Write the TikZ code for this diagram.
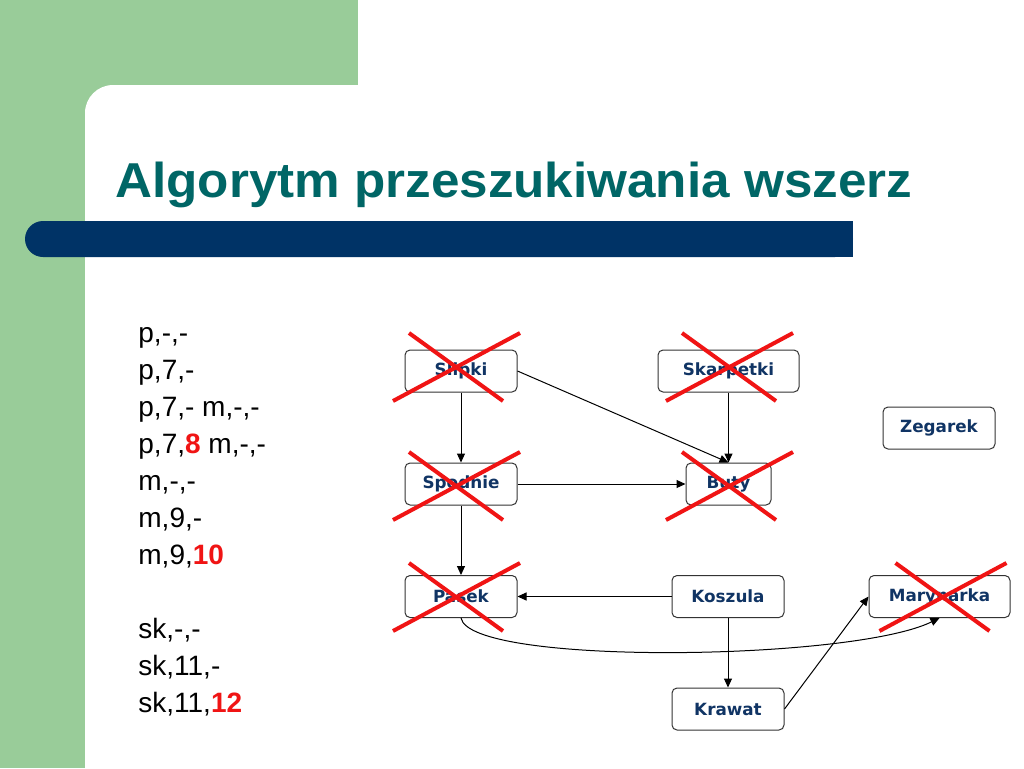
\documentclass[tikz,border=0pt]{standalone}
\usepackage{fontspec}
\usepackage{graphicx}
\setmainfont{Liberation Sans}
\newfontfamily\boxfont{DejaVu Sans}
\usetikzlibrary{arrows.meta}

\definecolor{slidegreen}{RGB}{153,204,153}
\definecolor{barblue}{RGB}{0,51,102}
\definecolor{titleteal}{RGB}{0,102,102}
\definecolor{labelblue}{RGB}{16,52,100}
\definecolor{crossred}{RGB}{240,20,20}
\newcommand{\hotnum}[1]{\textcolor{crossred}{\textbf{#1}}}

\begin{document}
\begin{tikzpicture}[
    x=0.5pt, y=-0.5pt,
    garment/.style={rectangle, draw=black!80, line width=0.5pt, rounded corners=2.5pt, minimum width=56pt, minimum height=21pt, inner sep=0pt, text=labelblue, font=\boxfont\bfseries\fontsize{8.4}{10}\selectfont},
    link/.style={draw, line width=0.5pt, -{Triangle[length=4.5pt,width=4pt]}},
    cross/.style={draw=crossred, line width=2pt}
]

    % Slide background
    \useasboundingbox (0,0) rectangle (1024,768);
    \fill[white] (0,0) rectangle (1024,768);
    \fill[slidegreen] (0,0) rectangle (358,768);
    \fill[white, rounded corners=14pt] (85,85) rectangle (1100,900);
    \fill[barblue, rounded corners=9pt] (25,221) rectangle (853,257);
    \fill[barblue] (800,221) rectangle (853,257);

    % Title and trace
    \node[anchor=base west, inner sep=0pt, text=titleteal, font=\bfseries\fontsize{24.5}{28}\selectfont] (title) at (115,197) {\scalebox{1.045}[1]{Algorytm przeszukiwania wszerz}};
    \node[anchor=base west, inner sep=0pt, align=left, font=\fontsize{14}{18.5}\selectfont] (trace) at (138,712)
        {p,-,-\\ p,7,-\\ p,7,- m,-,-\\ p,7,\hotnum{8} m,-,-\\ m,-,-\\ m,9,-\\ m,9,\hotnum{10}\\[18.5pt] sk,-,-\\ sk,11,-\\ sk,11,\hotnum{12}};

    % Garments
    \node[garment] (slipki) at (461,371) {Slipki};
    \node[garment, minimum width=70.5pt] (skarpetki) at (728.5,371) {Skarpetki};
    \node[garment, minimum width=56pt] (zegarek) at (939,428) {Zegarek};
    \node[garment] (spodnie) at (461,484) {Spodnie};
    \node[garment, minimum width=42.5pt] (buty) at (728.5,484) {Buty};
    \node[garment] (pasek) at (461,596.5) {Pasek};
    \node[garment] (koszula) at (728,596.5) {Koszula};
    \node[garment, minimum width=70.5pt] (marynarka) at (939.5,596.5) {Marynarka};
    \node[garment] (krawat) at (728,709) {Krawat};

    % Order constraints
    \draw[link] (slipki) -- (spodnie);
    \draw[link] (slipki.east) -- (buty.north);
    \draw[link] (skarpetki) -- (buty);
    \draw[link] (spodnie) -- (buty);
    \draw[link] (spodnie) -- (pasek);
    \draw[link] (koszula) -- (pasek);
    \draw[link] (koszula) -- (krawat);
    \draw[link] (krawat.east) -- (marynarka.west);
    \draw[link] (pasek.south) .. controls +(9,48) and +(-88,43) .. (marynarka.south);

    % Visited marks
    \foreach \n/\dx/\dy in {slipki/-4.5/-4, skarpetki/1/-4, spodnie/-4.5/2, buty/1/2, pasek/-4.5/0.5, marynarka/3.5/0.5} {
        \draw[cross] ([shift={(\dx-47.5,\dy-34)}]\n.center) -- ([shift={(\dx+46.5,\dy+34)}]\n.center);
        \draw[cross] ([shift={(\dx+63.5,\dy-34)}]\n.center) -- ([shift={(\dx-63.5,\dy+34)}]\n.center);
    }

\end{tikzpicture}
\end{document}
